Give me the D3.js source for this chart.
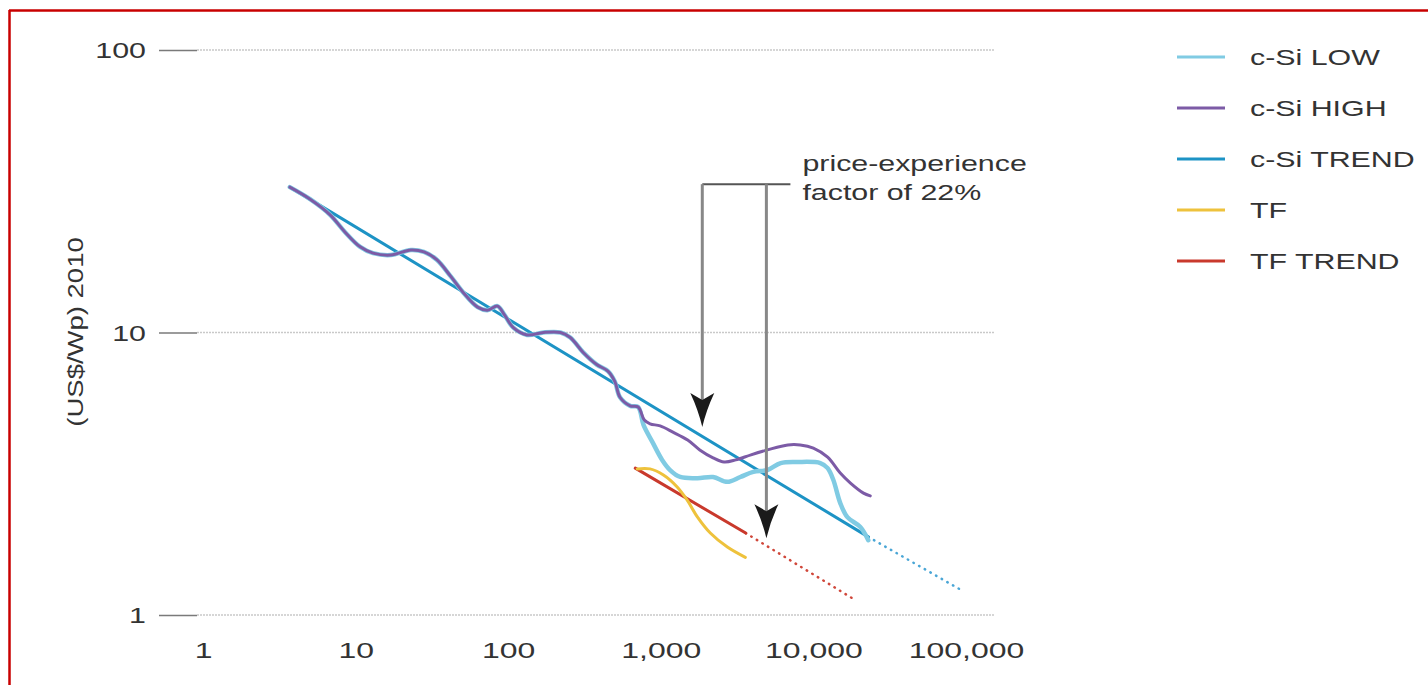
<!DOCTYPE html>
<html>
<head>
<meta charset="utf-8">
<script src="https://cdn.jsdelivr.net/npm/d3@7"></script>
<style>
  body { margin: 0; background: #fff; }
  svg { display: block; font-family: "Liberation Sans", Arial, sans-serif; }
</style>
</head>
<body>
<svg id="chart" width="1428" height="685"></svg>
<script>
// cumulative production (MW) vs module price (US$/Wp 2010)
// c-Si LOW and HIGH are the same line until about 700 MW
var csiSharedX = [3.7, 5, 6.8, 8.5, 10.7, 13, 17, 23, 28, 34, 42, 51, 63, 73, 85, 94, 108, 133, 170, 220, 255, 310, 380, 450, 500, 540, 630, 710];
var csiSharedY = [32.7, 29.7, 26.1, 22.7, 20.1, 19.1, 18.8, 19.6, 19.3, 18.1, 15.8, 13.8, 12.3, 12.0, 12.4, 11.6, 10.4, 9.8, 10.0, 10.0, 9.6, 8.5, 7.7, 7.3, 6.7, 5.9, 5.5, 5.45];

var csiHighTailX = [780, 850, 990, 1200, 1500, 1800, 2200, 2600, 3100, 3900, 5000, 6800, 8200, 10000, 12400, 15000, 17500, 21300, 23600];
var csiHighTailY = [4.9, 4.75, 4.67, 4.44, 4.16, 3.84, 3.6, 3.48, 3.54, 3.69, 3.84, 4.0, 4.0, 3.9, 3.62, 3.18, 2.93, 2.7, 2.64];

var csiLowTailX = [770, 880, 1020, 1150, 1340, 1740, 2200, 2730, 3320, 4040, 5000, 6100, 7900, 11100, 12400, 13500, 15000, 16700, 20300, 22900];
var csiLowTailY = [4.71, 4.10, 3.54, 3.26, 3.08, 3.05, 3.08, 2.96, 3.08, 3.21, 3.26, 3.45, 3.48, 3.45, 3.31, 3.01, 2.49, 2.22, 2.05, 1.84];

var csiTrendX = [3.7, 22900];
var csiTrendY = [32.7, 1.89];
var csiProjX = [22900, 92000];
var csiProjY = [1.89, 1.23];

var tfX = [700, 850, 1040, 1280, 1490, 1740, 2110, 2730, 3580];
var tfY = [3.29, 3.29, 3.13, 2.84, 2.55, 2.22, 1.95, 1.74, 1.60];

var tfTrendX = [680, 3600];
var tfTrendY = [3.31, 1.95];
var tfProjX = [3600, 18800];
var tfProjY = [1.95, 1.13];

var xTicks = [1, 10, 100, 1000, 10000, 100000];
var yTicks = [1, 10, 100];

var legendNames = ["c-Si LOW", "c-Si HIGH", "c-Si TREND", "TF", "TF TREND"];
var legendColors = ["#80cbe3", "#7c5ba6", "#1d93c5", "#eec23c", "#c9392c"];

// arrow annotation (x positions in MW, y in US$/Wp)
var arrowX = [1870, 4920];
var arrowTipY = [4.63, 1.87];
var arrowTopY = 33.5;
var arrowBarEndX = 7070;
var noteLines = ["price-experience", "factor of 22%"];

var SX = 1.38; // the source figure is stretched horizontally

var svg = d3.select("#chart");
svg.append("rect").attr("width", 1428).attr("height", 685).attr("fill", "#fff");

var x = d3.scaleLog().domain([0.885, 155000]).range([195, 995]);
var y = d3.scaleLog().domain([1, 100]).range([615, 50]);

// frame
svg.append("line").attr("x1", 9.5).attr("x2", 9.5).attr("y1", 10).attr("y2", 685)
  .attr("stroke", "#c80000").attr("stroke-width", 2.5);
svg.append("line").attr("x1", 9).attr("x2", 1428).attr("y1", 10.5).attr("y2", 10.5)
  .attr("stroke", "#c80000").attr("stroke-width", 2.5);

// grid lines
svg.append("g").selectAll("line").data(yTicks).join("line")
  .attr("x1", 197).attr("x2", 995)
  .attr("y1", function (d) { return y(d); }).attr("y2", function (d) { return y(d); })
  .attr("stroke", "#c9c9c9").attr("stroke-width", 1.5).attr("stroke-dasharray", "2,1");

// y axis
var yAxis = svg.append("g").attr("transform", "translate(197,0)")
  .call(d3.axisLeft(y).tickValues(yTicks).tickFormat(d3.format(",")).tickSize(38).tickPadding(0));
yAxis.select(".domain").remove();
yAxis.selectAll(".tick line").attr("stroke", "#7a7a7a").attr("stroke-width", 1.5);
yAxis.selectAll(".tick text")
  .attr("x", 0).attr("dy", "0.35em")
  .attr("transform", "translate(-51,0) scale(" + SX + ",1)")
  .attr("text-anchor", "end")
  .style("font-family", "'Liberation Sans', Arial, sans-serif")
  .style("font-size", "22px").attr("fill", "#333");

// x axis
var xAxis = svg.append("g").attr("transform", "translate(0,615)")
  .call(d3.axisBottom(x).tickValues(xTicks).tickFormat(d3.format(",")).tickSize(0));
xAxis.select(".domain").remove();
xAxis.selectAll(".tick text")
  .attr("y", 35).attr("dy", "0.35em")
  .attr("transform", "scale(1.42,1)")
  .style("font-family", "'Liberation Sans', Arial, sans-serif")
  .style("font-size", "22.5px").attr("fill", "#333");

// y title
svg.append("text")
  .attr("transform", "translate(83,332) rotate(-90) scale(1.25,1)")
  .attr("text-anchor", "middle")
  .style("font-size", "22px").attr("fill", "#333")
  .text("(US$/Wp) 2010");

function pts(xs, ys) { return xs.map(function (v, i) { return [v, ys[i]]; }); }

var line = d3.line().x(function (d) { return x(d[0]); }).y(function (d) { return y(d[1]); });
var smooth = d3.line().curve(d3.curveCatmullRom.alpha(0.5))
  .x(function (d) { return x(d[0]); }).y(function (d) { return y(d[1]); });

var plot = svg.append("g").attr("fill", "none").attr("stroke-linecap", "round").attr("stroke-linejoin", "round");

// projections (dotted)
plot.append("path").attr("d", line(pts(csiProjX, csiProjY)))
  .attr("stroke", "#4aa6d6").attr("stroke-width", 2.5).attr("stroke-dasharray", "0.5,6");
plot.append("path").attr("d", line(pts(tfProjX, tfProjY)))
  .attr("stroke", "#d0473a").attr("stroke-width", 2.5).attr("stroke-dasharray", "0.5,6");

// c-Si trend
plot.append("path").attr("d", line(pts(csiTrendX, csiTrendY)))
  .attr("stroke", legendColors[2]).attr("stroke-width", 3);

// c-Si low / high
var lowPts = pts(csiSharedX, csiSharedY).concat(pts(csiLowTailX, csiLowTailY));
var highPts = pts(csiSharedX, csiSharedY).concat(pts(csiHighTailX, csiHighTailY));
plot.append("path").attr("d", smooth(lowPts))
  .attr("stroke", legendColors[0]).attr("stroke-width", 4.5);
plot.append("path").attr("d", smooth(highPts))
  .attr("stroke", legendColors[1]).attr("stroke-width", 3);

// thin film
plot.append("path").attr("d", line(pts(tfTrendX, tfTrendY)))
  .attr("stroke", legendColors[4]).attr("stroke-width", 3);
plot.append("path").attr("d", smooth(pts(tfX, tfY)))
  .attr("stroke", legendColors[3]).attr("stroke-width", 3);

// annotation arrows
var ann = svg.append("g");
ann.append("line")
  .attr("x1", x(arrowX[0])).attr("x2", x(arrowBarEndX))
  .attr("y1", y(arrowTopY)).attr("y2", y(arrowTopY))
  .attr("stroke", "#555").attr("stroke-width", 2);
arrowX.forEach(function (ax, i) {
  var px = x(ax), tip = y(arrowTipY[i]);
  ann.append("line")
    .attr("x1", px).attr("x2", px).attr("y1", y(arrowTopY)).attr("y2", tip - 20)
    .attr("stroke", "#888").attr("stroke-width", 3);
  ann.append("path")
    .attr("transform", "translate(" + px + "," + tip + ")")
    .attr("d", "M0,0 Q-4,-17 -12,-34 L0,-27 L12,-34 Q4,-17 0,0 Z")
    .attr("fill", "#1a1a1a");
});
noteLines.forEach(function (t, i) {
  ann.append("text")
    .attr("transform", "translate(" + (x(arrowBarEndX) + 12) + "," + (171 + i * 29) + ") scale(" + SX + ",1)")
    .style("font-size", "22px").attr("fill", "#333")
    .text(t);
});

// legend
var lg = svg.append("g").selectAll("g").data(legendNames).join("g")
  .attr("transform", function (d, i) { return "translate(1177," + (57 + i * 51) + ")"; });
lg.append("line").attr("x1", 0).attr("x2", 48)
  .attr("stroke", function (d, i) { return legendColors[i]; }).attr("stroke-width", 3);
lg.append("text")
  .attr("transform", "translate(73,8) scale(" + SX + ",1)")
  .style("font-size", "22px").attr("fill", "#333")
  .text(function (d) { return d; });
</script>
</body>
</html>
